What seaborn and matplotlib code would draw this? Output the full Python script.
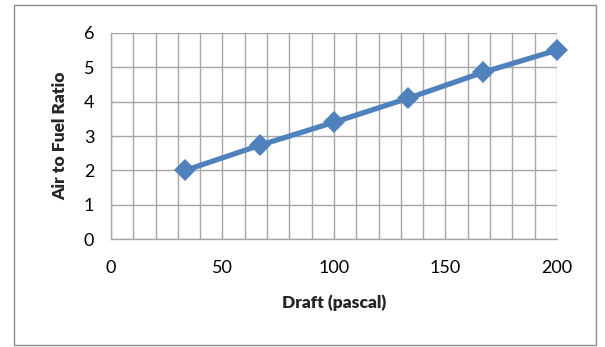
import matplotlib
matplotlib.use("Agg")
import matplotlib.pyplot as plt
from matplotlib.patches import Rectangle
from matplotlib.ticker import MultipleLocator
import seaborn as sns
import pandas as pd

# Data
draft = [33.3, 66.7, 100, 133.3, 166.7, 200]
air_fuel_ratio = [2.0, 2.73, 3.4, 4.1, 4.85, 5.5]

df = pd.DataFrame({"draft": draft, "ratio": air_fuel_ratio})

sns.set_theme(style="white")
plt.rcParams["font.family"] = ["Lato", "DejaVu Sans"]

fig = plt.figure(figsize=(6.05, 3.47), dpi=100)
ax = fig.add_axes([0.1835, 0.311, 0.737, 0.594])

sns.lineplot(data=df, x="draft", y="ratio", ax=ax, color="#4F81BD",
             linewidth=3.8, marker="D", markersize=11.5, markeredgewidth=0,
             clip_on=False)

ax.set_xlim(0, 200)
ax.set_ylim(0, 6)
ax.xaxis.set_major_locator(MultipleLocator(50))
ax.xaxis.set_minor_locator(MultipleLocator(10))
ax.yaxis.set_major_locator(MultipleLocator(1))
ax.grid(which="both", color="#A6A6A6", linewidth=1.0)
ax.set_axisbelow(True)
for side in ["top", "right"]:
    ax.spines[side].set_visible(False)
for side in ["left", "bottom"]:
    ax.spines[side].set_color("#A6A6A6")
    ax.spines[side].set_linewidth(1.0)

ax.tick_params(axis="both", which="both", length=0, labelsize=13, colors="black")
ax.tick_params(axis="y", pad=12)
ax.tick_params(axis="x", pad=15)

ax.set_xlabel("Draft (pascal)", fontsize=12.5, fontweight="heavy", labelpad=13)
ax.set_ylabel("Air to Fuel Ratio", fontsize=12.5, fontweight="heavy", labelpad=11)

# Outer chart border
fig.patches.append(Rectangle((14 / 605, 2 / 347), 582 / 605, 340 / 347,
                             transform=fig.transFigure, fill=False,
                             edgecolor="#8C8C8C", linewidth=1.0))

fig.savefig("out.png", dpi=100)
